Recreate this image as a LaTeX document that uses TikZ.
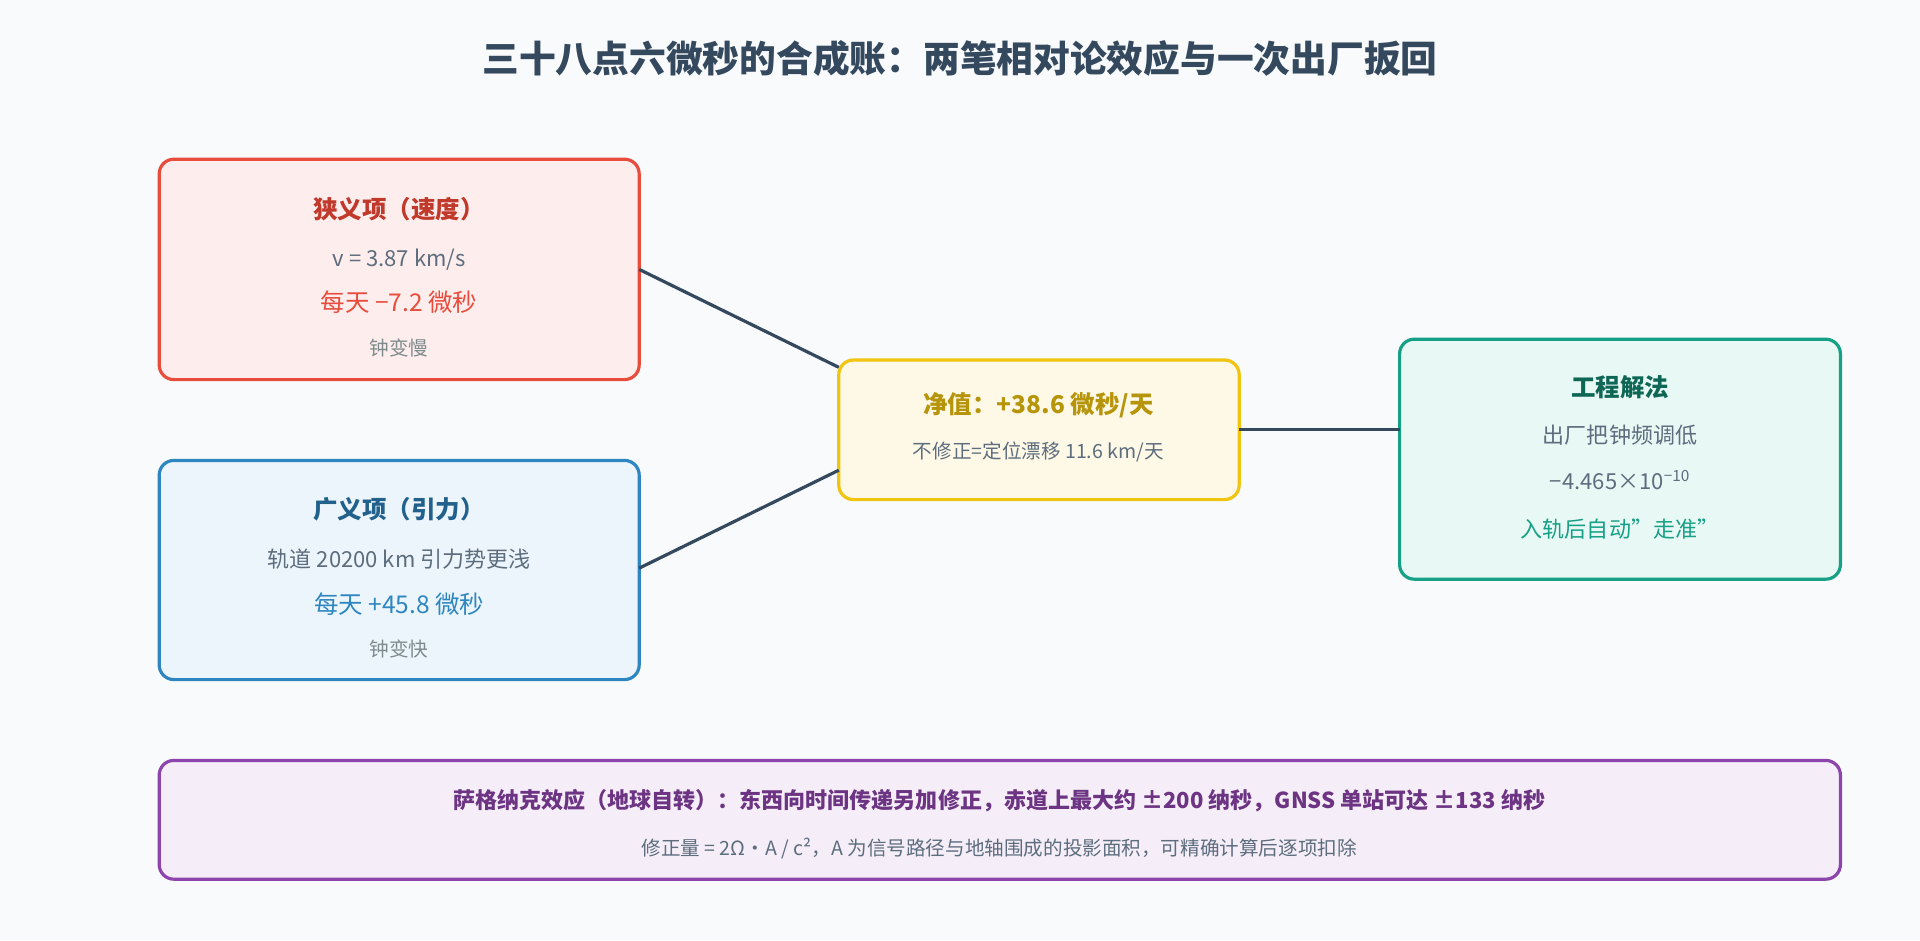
\documentclass[tikz,border=0pt]{standalone}
\usepackage{fontspec}
\setmainfont{Noto Sans CJK SC}
\begin{document}
\begin{tikzpicture}[x=1pt,y=-1pt,
  box/.style={draw,line width=2.6pt,rounded corners=12pt},
  conn/.style={draw=lk,line width=2.6pt},
  t/.style={font=\fontsize{20}{24}\selectfont\bfseries},
  b/.style={font=\fontsize{18}{22}\selectfont,text=bd},
  s/.style={font=\fontsize{16}{20}\selectfont,text=sm}]
\definecolor{bg}{HTML}{F8FAFC}\definecolor{lk}{HTML}{34495E}
\definecolor{bd}{HTML}{5D6D7E}\definecolor{sm}{HTML}{7F8C8D}
\definecolor{rb}{HTML}{E74C3C}\definecolor{rf}{HTML}{FDEDEC}\definecolor{rt}{HTML}{C0392B}
\definecolor{ub}{HTML}{2E86C1}\definecolor{uf}{HTML}{EBF5FB}\definecolor{ut}{HTML}{21618C}
\definecolor{yb}{HTML}{F1C40F}\definecolor{yf}{HTML}{FEF9E7}\definecolor{yt}{HTML}{B7950B}
\definecolor{gb}{HTML}{16A085}\definecolor{gf}{HTML}{E8F8F5}\definecolor{gt}{HTML}{0E6655}
\definecolor{pb}{HTML}{8E44AD}\definecolor{pf}{HTML}{F5EEF8}\definecolor{pt}{HTML}{6C3483}
\fill[bg] (0,0) rectangle (1568,768);
\useasboundingbox (0,0) rectangle (1568,768);
\node[font=\fontsize{30}{36}\selectfont\bfseries,text=lk] (title) at (784,48) {三十八点六微秒的合成账：两笔相对论效应与一次出厂扳回};
% boxes
\draw[box,draw=rb,fill=rf] (130,130) rectangle (522,310);
\draw[box,draw=ub,fill=uf] (130,376) rectangle (522,555);
\draw[box,draw=yb,fill=yf] (685,294) rectangle (1012,408);
\draw[box,draw=gb,fill=gf] (1143,277) rectangle (1503,473);
\draw[box,draw=pb,fill=pf] (130,621) rectangle (1503,718);
\coordinate (r) at (522,220); \coordinate (c1) at (685,300);
\coordinate (u) at (522,464); \coordinate (c2) at (685,384);
\coordinate (c3) at (1012,351); \coordinate (g) at (1143,351);
\draw[conn] (r) -- (c1); \draw[conn] (u) -- (c2); \draw[conn] (c3) -- (g);
% red
\node[t,text=rt] (r1) at (326,171) {狭义项（速度）};
\node[b] (r2) at (326,212) {v = 3.87 km/s};
\node[b,text=rb,font=\fontsize{20}{24}\selectfont] (r3) at (326,247) {每天 −7.2 微秒};
\node[s] (r4) at (326,284) {钟变慢};
% blue
\node[t,text=ut] (u1) at (326,416) {广义项（引力）};
\node[b] (u2) at (326,457) {轨道 20200 km 引力势更浅};
\node[b,text=ub,font=\fontsize{20}{24}\selectfont] (u3) at (326,493) {每天 +45.8 微秒};
\node[s] (u4) at (326,530) {钟变快};
% center
\node[t,text=yt] (c1t) at (848,331) {净值：+38.6 微秒/天};
\node[s,text=bd] (c2t) at (848,369) {不修正=定位漂移 11.6 km/天};
% green
\node[t,text=gt] (g1) at (1323,316) {工程解法};
\node[b] (g2) at (1323,355) {出厂把钟频调低};
\node[b] (g3) at (1323,392) {−4.465×10\textsuperscript{−10}};
\node[b,text=gb] (g4) at (1323,432) {入轨后自动"走准"};
% purple
\node[font=\fontsize{18}{22}\selectfont\bfseries,text=pt] (p1) at (816,654) {萨格纳克效应（地球自转）：东西向时间传递另加修正，赤道上最大约 ±200 纳秒，GNSS 单站可达 ±133 纳秒};
\node[s,text=bd] (p2) at (816,693) {修正量 = 2Ω·A / c²，A 为信号路径与地轴围成的投影面积，可精确计算后逐项扣除};
\end{tikzpicture}
\end{document}
